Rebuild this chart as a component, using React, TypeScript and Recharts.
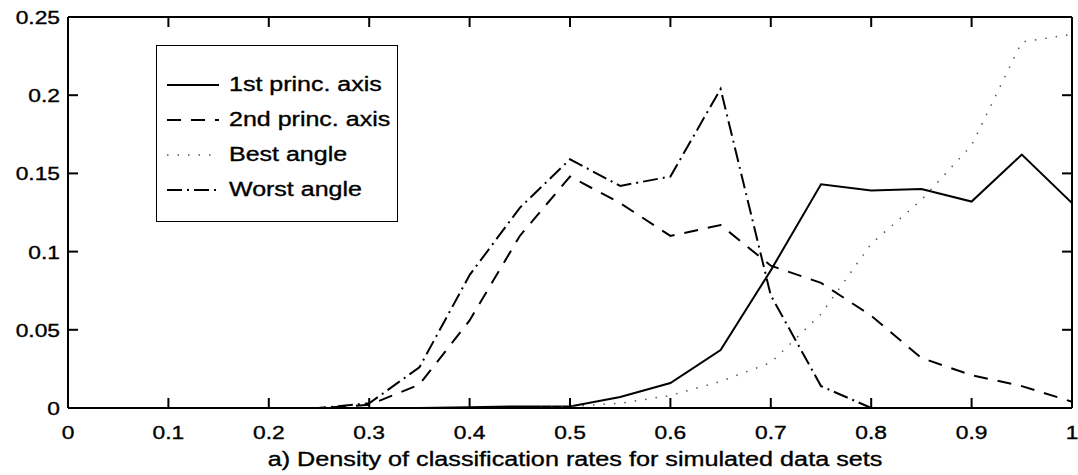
import React from 'react';
import { LineChart, Line, XAxis, YAxis, Legend, Label } from 'recharts';

// classification rate grid (0 .. 1 in steps of 0.05)
const rates = [0, 0.05, 0.1, 0.15, 0.2, 0.25, 0.3, 0.35, 0.4, 0.45, 0.5, 0.55, 0.6, 0.65, 0.7, 0.75, 0.8, 0.85, 0.9, 0.95, 1];
const firstAxis = [0, 0, 0, 0, 0, 0, 0, 0, 0.0005, 0.001, 0.001, 0.007, 0.016, 0.037, 0.088, 0.143, 0.139, 0.14, 0.132, 0.162, 0.131];
const secondAxis = [0, 0, 0, 0, 0, 0, 0.002, 0.015, 0.056, 0.11, 0.148, 0.131, 0.11, 0.117, 0.091, 0.08, 0.059, 0.032, 0.021, 0.014, 0.004];
const bestAngle = [0, 0, 0, 0, 0, 0, 0, 0, 0, 0, 0.001, 0.003, 0.008, 0.017, 0.029, 0.06, 0.105, 0.133, 0.168, 0.234, 0.239];
const worstAngle = [0, 0, 0, 0, 0, 0, 0.003, 0.026, 0.085, 0.128, 0.159, 0.142, 0.148, 0.204, 0.072, 0.014, 0, 0, 0, 0, 0];

const xTicks = [0, 0.1, 0.2, 0.3, 0.4, 0.5, 0.6, 0.7, 0.8, 0.9, 1];
const yTicks = [0, 0.05, 0.1, 0.15, 0.2, 0.25];
const title = 'a) Density of classification rates for simulated data sets';

const data = rates.map((r, i) => ({
  rate: r,
  first: firstAxis[i],
  second: secondAxis[i],
  best: bestAngle[i],
  worst: worstAngle[i],
}));

// first two series use bottom/left axes, the others top/right (same scales, gives the frame)
const series = [
  { key: 'first', name: '1st princ. axis', dash: undefined, color: '#000', width: 2, xa: 0, ya: 0 },
  { key: 'second', name: '2nd princ. axis', dash: '14 10', color: '#000', width: 2, xa: 0, ya: 0 },
  { key: 'best', name: 'Best angle', dash: '1.5 9', color: '#555', width: 1.5, xa: 'top', ya: 'right' },
  { key: 'worst', name: 'Worst angle', dash: '15 5 2 5', color: '#000', width: 2, xa: 'top', ya: 'right' },
];

const font = '"Liberation Sans", Arial, Helvetica, sans-serif';
const TICK = 10;
const SX = 1.2; // scanned text is wider than plain Arial

const fmt = (v: number) => String(Math.round(v * 100) / 100);

function StretchText({ x, y, anchor, size, children }: any) {
  return (
    <text
      transform={`translate(${x},${y}) scale(${SX},1)`}
      textAnchor={anchor}
      fontFamily={font}
      fontSize={size}
      fill="#000"
      stroke="#000"
      strokeWidth={0.35}
    >
      {children}
    </text>
  );
}

function BottomTick({ x, y, payload }: any) {
  return (
    <g>
      <line x1={x} x2={x} y1={y} y2={y - TICK} stroke="#000" strokeWidth={2} />
      <StretchText x={x} y={y + 31} anchor="middle" size={19}>{fmt(payload.value)}</StretchText>
    </g>
  );
}

function LeftTick({ x, y, payload }: any) {
  return (
    <g>
      <line x1={x} x2={x + TICK} y1={y} y2={y} stroke="#000" strokeWidth={2} />
      <StretchText x={x - 8} y={y + 7} anchor="end" size={19}>{fmt(payload.value)}</StretchText>
    </g>
  );
}

function TopTick({ x, y }: any) {
  return <line x1={x} x2={x} y1={y} y2={y + TICK} stroke="#000" strokeWidth={2} />;
}

function RightTick({ x, y }: any) {
  return <line x1={x} x2={x - TICK} y1={y} y2={y} stroke="#000" strokeWidth={2} />;
}

function TitleLabel({ viewBox }: any) {
  const cx = viewBox.x + viewBox.width / 2 + 5;
  return (
    <StretchText x={cx} y={466} anchor="middle" size={21}>
      {title}
    </StretchText>
  );
}

function LegendBox({ payload }: any) {
  const items = (payload || []).map((p: any) => series.find((s) => s.name === p.value)).filter(Boolean);
  return (
    <div
      style={{
        width: 242,
        height: 177,
        border: '1.5px solid #000',
        background: '#fff',
        boxSizing: 'border-box',
        paddingTop: 21,
        fontFamily: font,
        fontSize: 20,
      }}
    >
      {items.map((s: any) => (
        <div key={s.key} style={{ display: 'flex', alignItems: 'center', height: 35 }}>
          <svg width={72} height={10} style={{ flex: 'none' }}>
            <line x1={10} x2={62} y1={5} y2={5} stroke={s.color} strokeWidth={s.width} strokeDasharray={s.dash} />
          </svg>
          <span
            style={{
              color: '#000',
              display: 'inline-block',
              whiteSpace: 'nowrap',
              transform: 'scaleX(1.25)',
              transformOrigin: 'left center',
              WebkitTextStroke: '0.35px #000',
            }}
          >
            {s.name}
          </span>
        </div>
      ))}
    </div>
  );
}

const axisLine = { stroke: '#000', strokeWidth: 2 };

export default function App() {
  return (
    <div style={{ position: 'absolute', left: 0, top: 0, background: '#fff', width: 1078, height: 475 }}>
      <LineChart width={1078} height={475} data={data} margin={{ top: 16, right: 5, bottom: 37, left: 8 }}>
        <XAxis
          dataKey="rate"
          type="number"
          domain={[0, 1]}
          ticks={xTicks}
          allowDataOverflow
          height={30}
          tickSize={0}
          tickMargin={0}
          tickLine={false}
          tick={<BottomTick />}
          axisLine={axisLine}
        >
          <Label content={<TitleLabel />} />
        </XAxis>
        <XAxis
          xAxisId="top"
          orientation="top"
          dataKey="rate"
          type="number"
          domain={[0, 1]}
          ticks={xTicks}
          allowDataOverflow
          height={1}
          tickSize={0}
          tickMargin={0}
          tickLine={false}
          tick={<TopTick />}
          axisLine={axisLine}
        />
        <YAxis
          type="number"
          domain={[0, 0.25]}
          ticks={yTicks}
          allowDataOverflow
          width={60}
          tickSize={0}
          tickMargin={0}
          tickLine={false}
          tick={<LeftTick />}
          axisLine={axisLine}
        />
        <YAxis
          yAxisId="right"
          orientation="right"
          type="number"
          domain={[0, 0.25]}
          ticks={yTicks}
          allowDataOverflow
          width={1}
          tickSize={0}
          tickMargin={0}
          tickLine={false}
          tick={<RightTick />}
          axisLine={axisLine}
        />
        <Legend
          layout="vertical"
          align="center"
          verticalAlign="middle"
          wrapperStyle={{ left: 156, top: 45, width: 242 }}
          content={<LegendBox />}
        />
        {series.map((s) => (
          <Line
            key={s.key}
            dataKey={s.key}
            name={s.name}
            xAxisId={s.xa}
            yAxisId={s.ya}
            type="linear"
            stroke={s.color}
            strokeWidth={s.width}
            strokeDasharray={s.dash}
            dot={false}
            activeDot={false}
            isAnimationActive={false}
          />
        ))}
      </LineChart>
    </div>
  );
}
